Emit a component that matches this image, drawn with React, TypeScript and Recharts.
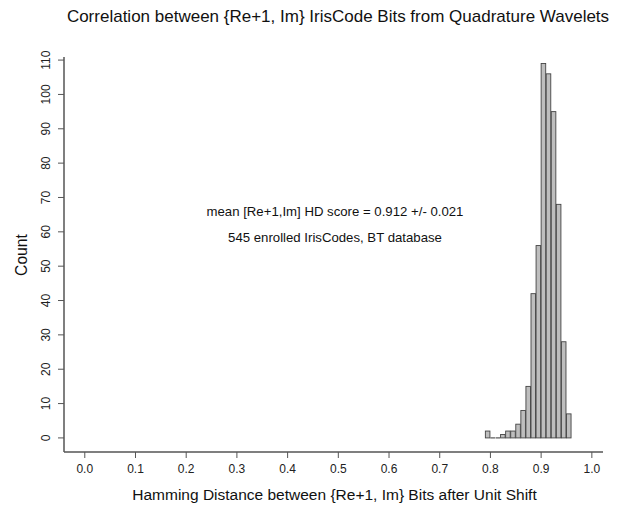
import { ComposedChart, Bar, XAxis, YAxis } from "recharts";

// histogram bins (left edge) and counts
const binStarts = [0.79, 0.8, 0.81, 0.82, 0.83, 0.84, 0.85, 0.86, 0.87, 0.88, 0.89, 0.9, 0.91, 0.92, 0.93, 0.94, 0.95];
const counts = [2, 0, 0, 1, 2, 2, 4, 8, 15, 42, 56, 109, 106, 95, 68, 28, 7];
const binWidth = 0.01;

const xTicks = [0, 0.1, 0.2, 0.3, 0.4, 0.5, 0.6, 0.7, 0.8, 0.9, 1.0];
const yTicks = [0, 10, 20, 30, 40, 50, 60, 70, 80, 90, 100, 110];

const title = "Correlation between {Re+1, Im} IrisCode Bits from Quadrature Wavelets";
const xTitle = "Hamming Distance between {Re+1, Im} Bits after Unit Shift";
const yTitle = "Count";
const notes = ["mean [Re+1,Im] HD score = 0.912 +/- 0.021", "545 enrolled IrisCodes, BT database"];

const data = binStarts.map((b, i) => ({ mid: b + binWidth / 2, count: counts[i] }));

const W = 618;
const H = 506;
const font = "'Liberation Sans', Arial, sans-serif";
const frame = "#555";
const xDomain: [number, number] = [-0.041, 1.022];
const plotW = 539;
const barPx = (binWidth * plotW) / (xDomain[1] - xDomain[0]);

function BinShape(props: any) {
  const { x, y, width, height } = props;
  if (!height || height < 0.5) {
    return <line x1={x} x2={x + width} y1={y + (height || 0)} y2={y + (height || 0)} stroke="#333" strokeWidth={1} />;
  }
  return <rect x={x} y={y} width={width} height={height} fill="#bebebe" stroke="#444" strokeWidth={0.9} />;
}

function YTick(props: any) {
  const { x, y, payload } = props;
  const cx = x - 6;
  return (
    <text x={cx} y={y} transform={`rotate(-90, ${cx}, ${y})`} textAnchor="middle" fontSize={12} fill="#222" fontFamily={font}>
      {payload.value}
    </text>
  );
}

function XTick(props: any) {
  const { x, y, payload } = props;
  return (
    <text x={x} y={y + 13} textAnchor="middle" fontSize={12} fill="#222" fontFamily={font}>
      {Number(payload.value).toFixed(1)}
    </text>
  );
}

export default function App() {
  return (
    <div style={{ position: "absolute", left: 0, top: 0, width: W, height: H, background: "#fff", fontFamily: font }}>
      <ComposedChart width={W} height={H} data={data} margin={{ top: 57, right: 15, bottom: 0, left: 0 }}>
        <XAxis
          dataKey="mid"
          type="number"
          domain={xDomain}
          ticks={xTicks}
          interval={0}
          allowDataOverflow
          height={54}
          tickSize={6}
          tick={<XTick />}
          stroke={frame}
          axisLine={{ stroke: frame, strokeWidth: 1.5 }}
          tickLine={{ stroke: frame }}
        />
        <XAxis xAxisId="top" orientation="top" dataKey="mid" type="number" domain={xDomain} height={0} tick={false} tickLine={false} axisLine={{ stroke: frame, strokeWidth: 1.5 }} />
        <YAxis
          type="number"
          domain={[-4.1, 110.9]}
          ticks={yTicks}
          interval={0}
          allowDataOverflow
          width={64}
          tickSize={6}
          tick={<YTick />}
          axisLine={{ stroke: frame, strokeWidth: 1.5 }}
          tickLine={{ stroke: frame }}
        />
        <YAxis yAxisId="right" orientation="right" domain={[-4.1, 110.9]} width={0} tick={false} tickLine={false} axisLine={{ stroke: frame, strokeWidth: 1.5 }} />
        <Bar dataKey="count" barSize={barPx} shape={<BinShape />} isAnimationActive={false} />
      </ComposedChart>
      <div style={{ position: "absolute", left: 38, width: 600, top: 7, textAlign: "center", fontSize: 17, color: "#111", whiteSpace: "nowrap" }}>{title}</div>
      <div style={{ position: "absolute", left: 65, width: 539, top: 486, textAlign: "center", fontSize: 15.5, color: "#111" }}>{xTitle}</div>
      <div
        style={{
          position: "absolute",
          left: 22,
          top: 255,
          transform: "translate(-50%, -50%) rotate(-90deg)",
          fontSize: 15.7,
          color: "#111",
          whiteSpace: "nowrap",
        }}
      >
        {yTitle}
      </div>
      <div style={{ position: "absolute", left: 135, width: 400, top: 204, textAlign: "center", fontSize: 13.2, color: "#111" }}>{notes[0]}</div>
      <div style={{ position: "absolute", left: 135, width: 400, top: 230, textAlign: "center", fontSize: 13.2, color: "#111" }}>{notes[1]}</div>
    </div>
  );
}
